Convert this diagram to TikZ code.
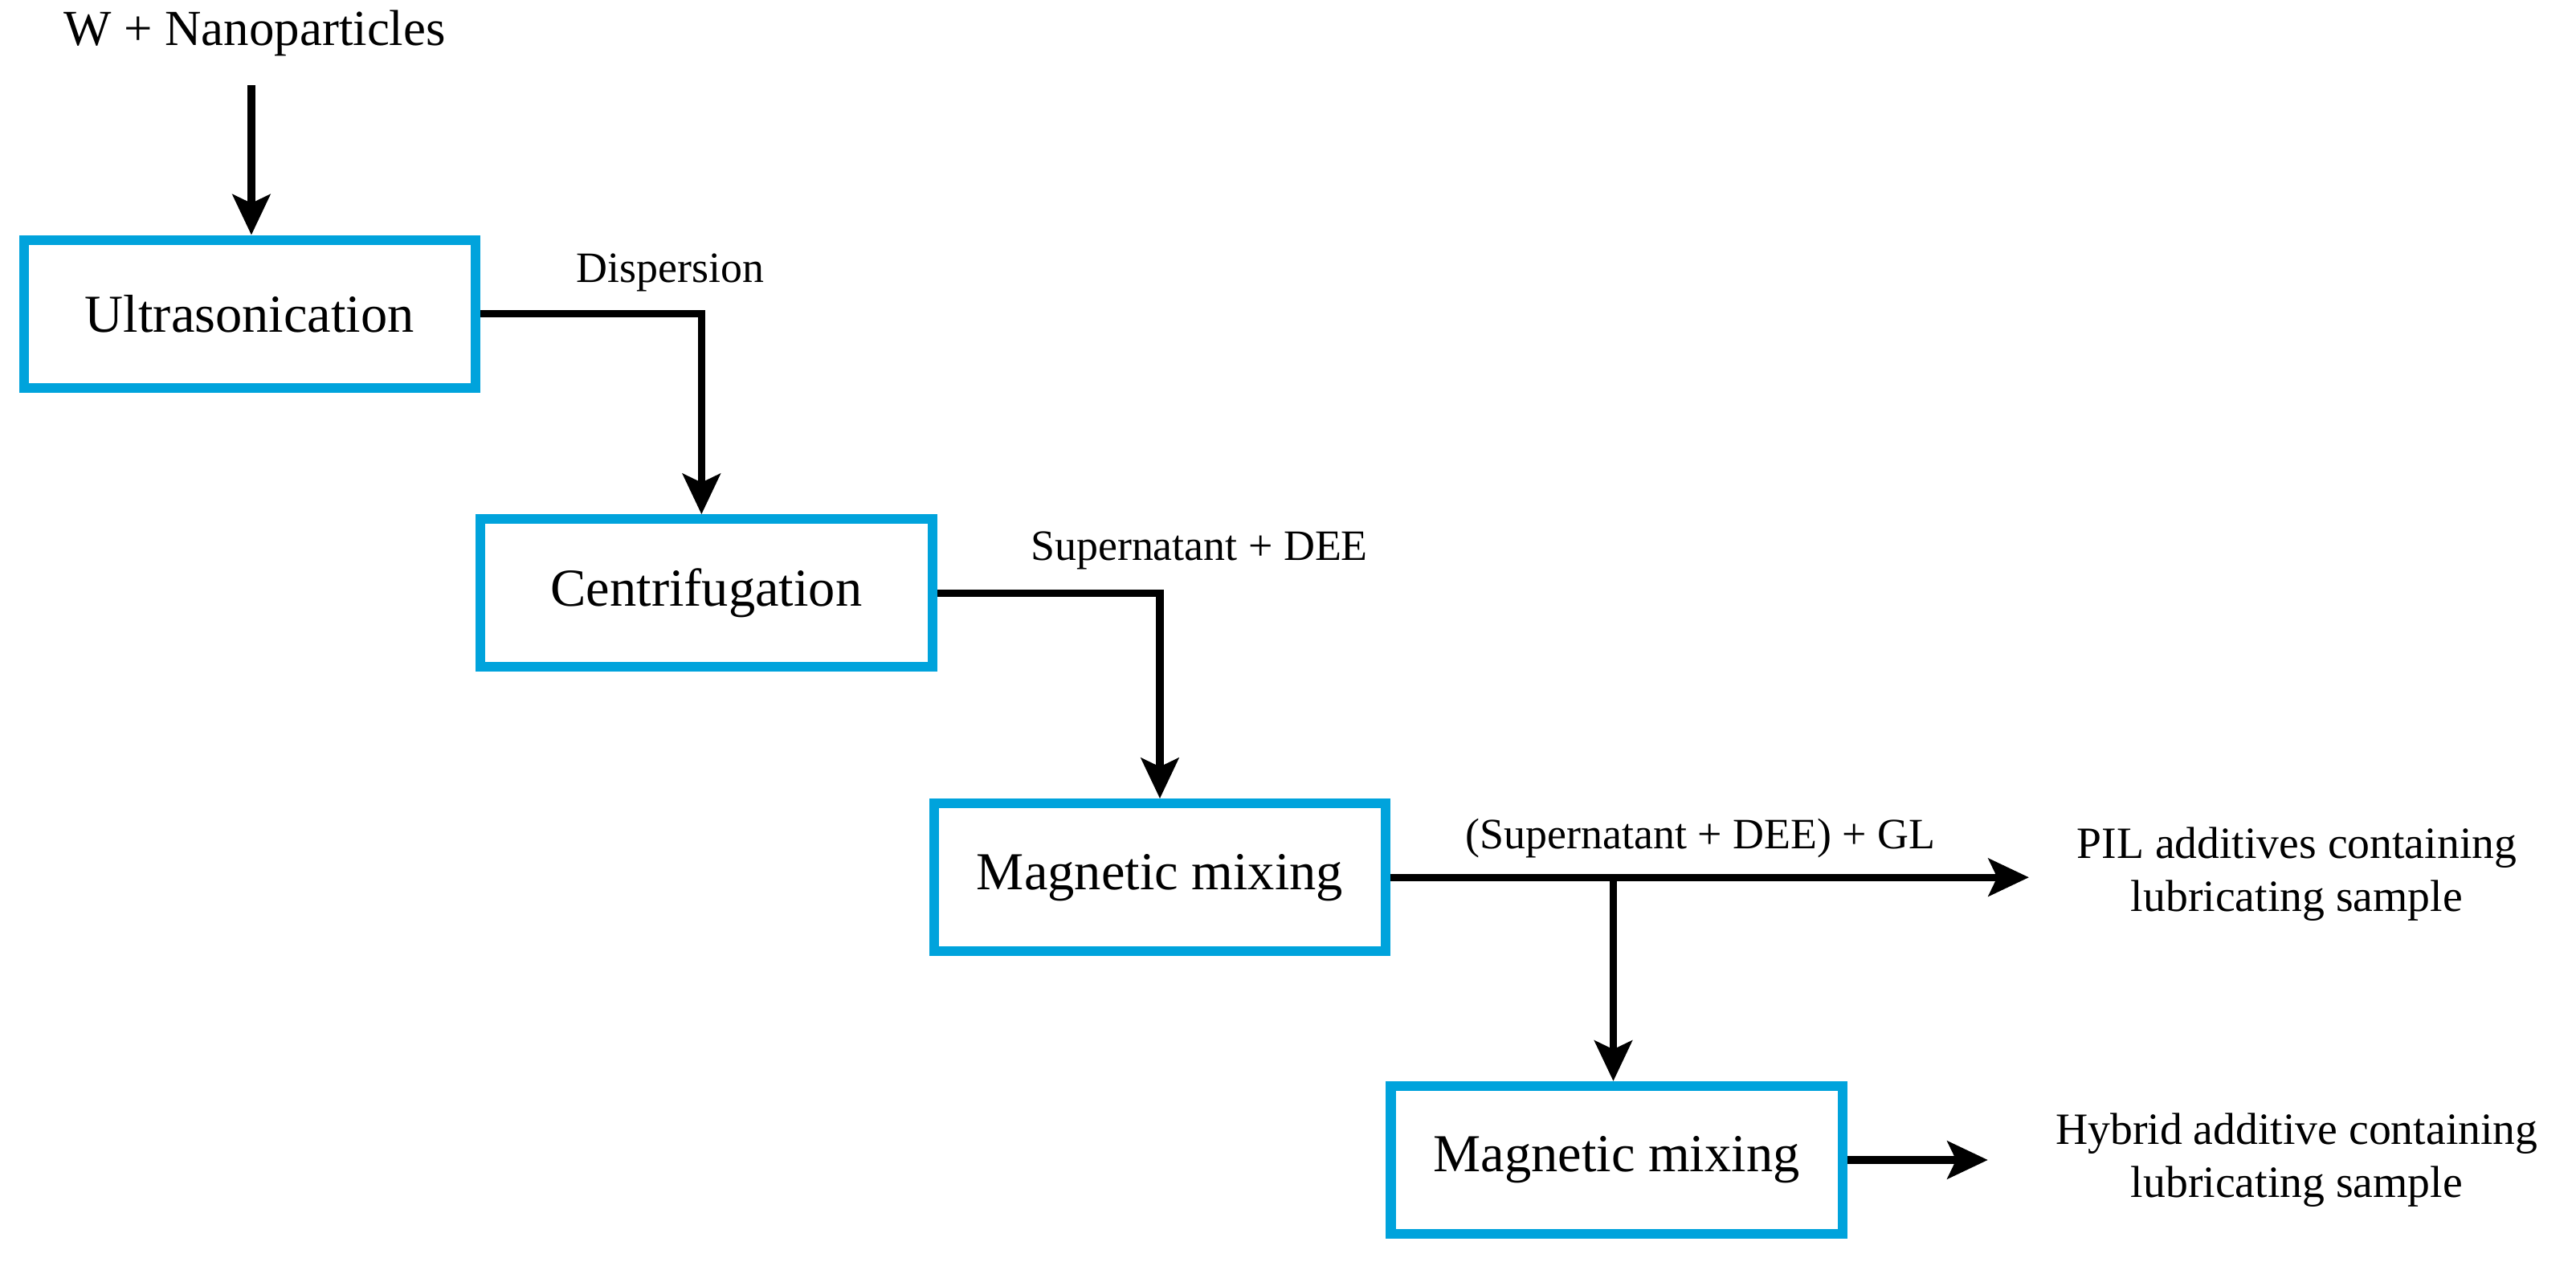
\documentclass[tikz,border=0pt]{standalone}
\usepackage{fontspec}
\setmainfont{Liberation Serif}
\usetikzlibrary{arrows.meta}
\definecolor{bx}{HTML}{00A3DC}
\begin{document}
\begin{tikzpicture}[x=0.02cm,y=-0.02cm,
  box/.style={draw=bx,line width=3.4pt,minimum width=5.5cm,minimum height=1.8cm,font=\fontsize{18.5}{22}\selectfont},
  lab/.style={font=\fontsize{15}{18}\selectfont},
  outtxt/.style={font=\fontsize{15.5}{18.5}\selectfont,align=center},
  arr/.style={line width=2.6pt,-{Stealth[length=14pt,width=13pt,inset=3pt]}}]
\path[use as bounding box] (0,0) rectangle (1568,768);
\node[lab,font=\fontsize{17.5}{20}\selectfont] (w) at (155,20) {W + Nanoparticles};
\node[box] (b1) at (152,191) {Ultrasonication};
\node[box] (b2) at (430,361) {Centrifugation};
\node[box] (b3) at (706,534) {Magnetic mixing};
\node[box] (b4) at (984,706) {Magnetic mixing};
\coordinate (wa) at (153,52);
\draw[arr] (wa) -- (b1.north -| wa);
\coordinate (c1) at (427,0);
\draw[arr] (b1.east) -| (b2.north -| c1);
\node[lab] (l1) at (408,166) {Dispersion};
\draw[arr] (b2.east) -| (b3.north);
\node[lab] (l2) at (730,335) {Supernatant + DEE};
\node[outtxt] (o1) at (1398,532) {PIL additives containing\\lubricating sample};
\node[outtxt] (o2) at (1398,706) {Hybrid additive containing\\lubricating sample};
\coordinate (e1) at (1235,534);
\draw[arr] (b3.east) -- (e1);
\node[lab] (l3) at (1035,510) {(Supernatant + DEE) + GL};
\coordinate (br) at (982,534);
\draw[arr] (br) -- (b4.north -| br);
\coordinate (e2) at (1210,706);
\draw[arr] (b4.east) -- (e2);
\end{tikzpicture}
\end{document}
